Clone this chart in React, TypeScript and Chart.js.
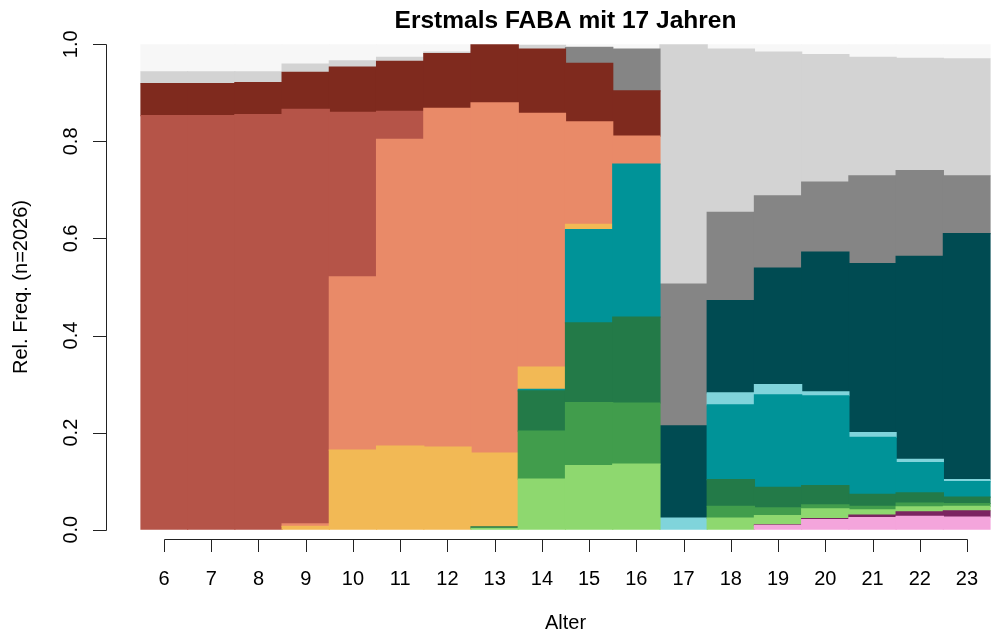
import React, { useEffect, useRef } from "react";
import { Chart, registerables } from "chart.js";

Chart.register(...registerables);

const ages = ["6", "7", "8", "9", "10", "11", "12", "13", "14", "15", "16", "17", "18", "19", "20", "21", "22", "23"];
const yTicks = [0, 0.2, 0.4, 0.6, 0.8, 1.0];
const yTickLabels = ["0.0", "0.2", "0.4", "0.6", "0.8", "1.0"];

// state shares per age, bottom to top
const pink = [0, 0, 0, 0, 0, 0, 0, 0, 0, 0, 0, 0, 0, 0.009, 0.021, 0.025, 0.0275, 0.026];
const purple = [0, 0, 0, 0, 0, 0, 0, 0, 0, 0, 0, 0, 0, 0.001, 0.002, 0.005, 0.0095, 0.013];
const lightGreen = [0, 0, 0, 0, 0, 0, 0, 0.003, 0.104, 0.132, 0.135, 0, 0.024, 0.019, 0.02, 0.011, 0.01, 0.009];
const green = [0, 0, 0, 0, 0, 0, 0, 0, 0.099, 0.13, 0.126, 0, 0.024, 0.016, 0.008, 0.007, 0.008, 0.006];
const darkGreen = [0, 0, 0, 0, 0, 0, 0, 0.003, 0.083, 0.164, 0.177, 0, 0.055, 0.042, 0.04, 0.025, 0.021, 0.013];
const teal = [0, 0, 0, 0, 0, 0, 0, 0, 0.003, 0.192, 0.315, 0, 0.154, 0.191, 0.185, 0.117, 0.062, 0.032];
const lightCyan = [0, 0, 0, 0, 0, 0, 0, 0, 0, 0, 0, 0.024, 0.025, 0.021, 0.008, 0.01, 0.007, 0.004];
const darkTeal = [0, 0, 0, 0, 0, 0, 0, 0, 0, 0, 0, 0.19, 0.19, 0.24, 0.288, 0.348, 0.418, 0.507];
const yellow = [0, 0, 0, 0.007, 0.164, 0.172, 0.17, 0.152, 0.046, 0.011, 0, 0, 0, 0, 0, 0, 0, 0];
const salmon = [0, 0, 0, 0.005, 0.357, 0.632, 0.698, 0.7215, 0.523, 0.211, 0.058, 0, 0, 0, 0, 0, 0, 0];
const red = [0.853, 0.853, 0.855, 0.854, 0.339, 0.058, 0, 0, 0, 0, 0, 0, 0, 0, 0, 0, 0, 0];
const darkRed = [0.066, 0.066, 0.066, 0.076, 0.093, 0.103, 0.113, 0.1205, 0.132, 0.121, 0.093, 0, 0, 0, 0, 0, 0, 0];
const gray = [0, 0, 0, 0, 0, 0, 0, 0, 0, 0.032, 0.086, 0.292, 0.182, 0.149, 0.144, 0.181, 0.177, 0.119];
const lightGray = [0.024, 0.024, 0.022, 0.017, 0.013, 0.008, 0.003, 0, 0.008, 0.002, 0, 0.494, 0.336, 0.296, 0.263, 0.244, 0.231, 0.241];
const missing = [0.057, 0.057, 0.057, 0.041, 0.034, 0.027, 0.016, 0, 0.002, 0.005, 0.01, 0, 0.01, 0.016, 0.021, 0.027, 0.029, 0.03];

const series = [
  { label: "pink", data: pink, color: "#F4A5DC" },
  { label: "purple", data: purple, color: "#7B2461" },
  { label: "lightGreen", data: lightGreen, color: "#8ED86F" },
  { label: "green", data: green, color: "#419D4C" },
  { label: "darkGreen", data: darkGreen, color: "#237A48" },
  { label: "teal", data: teal, color: "#009398" },
  { label: "lightCyan", data: lightCyan, color: "#80D4DB" },
  { label: "darkTeal", data: darkTeal, color: "#004B52" },
  { label: "yellow", data: yellow, color: "#F2B955" },
  { label: "salmon", data: salmon, color: "#E98A68" },
  { label: "red", data: red, color: "#B55448" },
  { label: "darkRed", data: darkRed, color: "#7F2A1E" },
  { label: "gray", data: gray, color: "#858585" },
  { label: "lightGray", data: lightGray, color: "#D3D3D3" },
  { label: "missing", data: missing, color: "#F7F7F7" },
];

const FONT = "Liberation Sans, Arial, Helvetica, sans-serif";

const axesPlugin = {
  id: "rAxes",
  afterDraw(chart: any) {
    const ctx = chart.ctx;
    const xs = chart.scales.x;
    const ys = chart.scales.y;
    ctx.save();
    ctx.strokeStyle = "#222";
    ctx.fillStyle = "#000";
    ctx.lineWidth = 1;

    // y axis
    const axX = 106.5;
    ctx.beginPath();
    ctx.moveTo(axX, Math.round(ys.getPixelForValue(0)) + 0.5);
    ctx.lineTo(axX, Math.round(ys.getPixelForValue(1)) + 0.5);
    yTicks.forEach((t) => {
      const py = Math.round(ys.getPixelForValue(t)) + 0.5;
      ctx.moveTo(axX, py);
      ctx.lineTo(93, py);
    });
    ctx.stroke();
    ctx.font = `20px ${FONT}`;
    ctx.textAlign = "center";
    ctx.textBaseline = "alphabetic";
    yTicks.forEach((t, i) => {
      const py = ys.getPixelForValue(t);
      ctx.save();
      ctx.translate(77, py);
      ctx.rotate(-Math.PI / 2);
      ctx.fillText(yTickLabels[i], 0, 0);
      ctx.restore();
    });

    // x axis
    const axY = 539.5;
    const x0 = Math.round(xs.getPixelForValue(0)) + 0.5;
    const x1 = Math.round(xs.getPixelForValue(ages.length - 1)) + 0.5;
    ctx.beginPath();
    ctx.moveTo(x0, axY);
    ctx.lineTo(x1, axY);
    ages.forEach((_, i) => {
      const px = Math.round(xs.getPixelForValue(i)) + 0.5;
      ctx.moveTo(px, axY);
      ctx.lineTo(px, 552);
    });
    ctx.stroke();
    ages.forEach((a, i) => {
      ctx.fillText(a, xs.getPixelForValue(i), 585);
    });

    // axis titles
    const cx = (chart.chartArea.left + chart.chartArea.right) / 2;
    ctx.fillText("Alter", cx, 629);
    ctx.save();
    ctx.translate(27, (chart.chartArea.top + chart.chartArea.bottom) / 2);
    ctx.rotate(-Math.PI / 2);
    ctx.fillText("Rel. Freq. (n=2026)", 0, 0);
    ctx.restore();

    // title
    ctx.font = `bold 24.5px ${FONT}`;
    ctx.fillText("Erstmals FABA mit 17 Jahren", cx, 28);
    ctx.restore();
  },
};

export default function App() {
  const ref = useRef<HTMLCanvasElement | null>(null);
  useEffect(() => {
    if (!ref.current) return;
    const chart = new Chart(ref.current, {
      type: "bar",
      data: {
        labels: ages,
        datasets: series.map((s) => ({
          label: s.label,
          data: s.data.map((v) => (v === 0 ? null : v)),
          backgroundColor: s.color,
          borderWidth: 0,
          barPercentage: 1,
          categoryPercentage: 1,
          inflateAmount: 0.6,
        })),
      },
      options: {
        animation: false,
        responsive: false,
        devicePixelRatio: 1,
        layout: { padding: { left: 140.4, right: 3.4, top: 44.3, bottom: 105.3 } },
        plugins: { legend: { display: false }, title: { display: false }, tooltip: { enabled: false } },
        scales: {
          x: { stacked: true, display: false, offset: true },
          y: { stacked: true, display: false, min: 0, max: 1 },
        },
      },
      plugins: [axesPlugin],
    });
    return () => chart.destroy();
  }, []);
  return (
    <div style={{ position: "absolute", left: 0, top: 0, width: 994, height: 635, background: "#fff" }}>
      <canvas ref={ref} width={994} height={635} style={{ display: "block" }} />
    </div>
  );
}
